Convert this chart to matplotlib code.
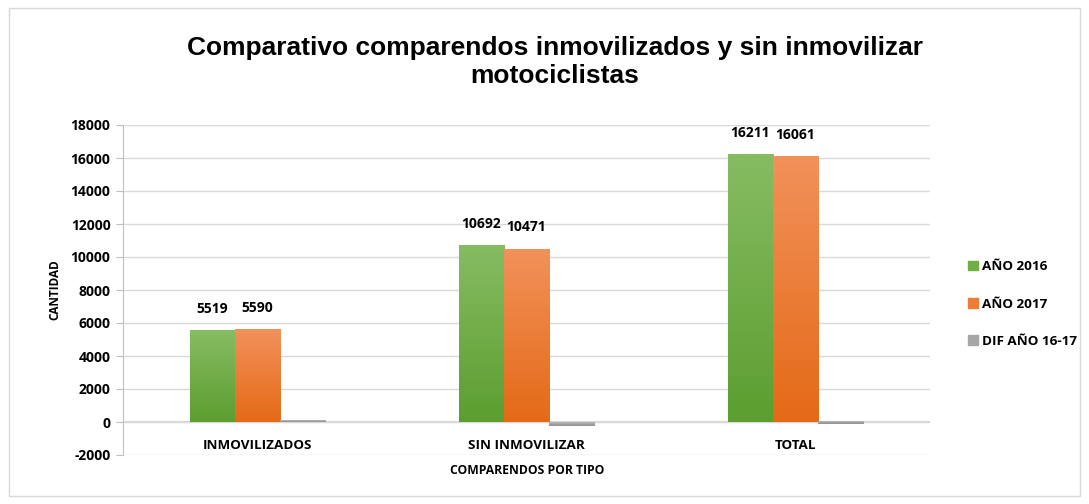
import matplotlib
matplotlib.use("Agg")
import matplotlib.pyplot as plt
import numpy as np
from matplotlib.patches import Rectangle
from matplotlib.colors import LinearSegmentedColormap

categories = ["INMOVILIZADOS", "SIN INMOVILIZAR", "TOTAL"]
series_names = ["AÑO 2016", "AÑO 2017", "DIF AÑO 16-17"]
y2016 = [5519, 10692, 16211]
y2017 = [5590, 10471, 16061]
ydif = [71, -221, -150]
yticks = [-2000, 0, 2000, 4000, 6000, 8000, 10000, 12000, 14000, 16000, 18000]

plt.rcParams['font.family'] = ['Liberation Sans', 'DejaVu Sans']
LBL = ['Open Sans', 'DejaVu Sans']

fig = plt.figure(figsize=(10.89, 5.04), dpi=100)
fig.patches.append(Rectangle((0.008, 0.016), 0.984, 0.968, transform=fig.transFigure,
                             fill=False, edgecolor='#D9D9D9', linewidth=1))
ax = fig.add_axes([123/1089, 1-455/504, (930-123)/1089, (455-125)/504])

x = np.arange(len(categories))
w = 0.168
offsets = [-w, 0, w]
grads = [('#86BC62', '#5C9E30'), ('#F2915A', '#E46A17'), ('#B8B8B8', '#8F8F8F')]
data = [y2016, y2017, ydif]
for s, (vals, off, (ctop, cbot)) in enumerate(zip(data, offsets, grads)):
    bars = ax.bar(x + off, vals, width=w, color=cbot, label=series_names[s], zorder=2,
                  linewidth=0)
    cmap = LinearSegmentedColormap.from_list('g', [cbot, ctop])
    for b in bars:
        bx, by = b.get_x(), b.get_y()
        bw, bh = b.get_width(), b.get_height()
        if abs(bh) < 1:
            continue
        grad = np.linspace(0, 1, 100).reshape(-1, 1)
        ax.imshow(grad, cmap=cmap, origin='lower', aspect='auto',
                  extent=[bx, bx + bw, min(by, by + bh), max(by, by + bh)], zorder=3)
    if s < 2:
        for xi, v in zip(x + off, vals):
            ax.text(xi, v + 900, str(v), ha='center', va='bottom', fontsize=10,
                    fontweight='bold', family=LBL)

ax.set_xlim(-0.5, 2.5)
ax.set_ylim(-2000, 18000)
ax.set_yticks(yticks)
ax.set_yticklabels([str(t) for t in yticks], fontsize=10, fontweight='bold', family=LBL)
ax.yaxis.grid(True, color='#D9D9D9', linewidth=1, zorder=0)
ax.set_axisbelow(True)
ax.tick_params(axis='y', length=5, color='#BFBFBF', pad=4)
ax.set_xticks([])
for sp in ['top', 'right', 'bottom']:
    ax.spines[sp].set_visible(False)
ax.spines['left'].set_color('#BFBFBF')
ax.axhline(0, color='#D9D9D9', linewidth=1.5, zorder=1)

for xi, c in zip(x, categories):
    ax.text(xi, -1400, c, ha='center', va='center', fontsize=9.7, fontweight='bold', family=LBL)

ax.set_ylabel('CANTIDAD', fontsize=8.5, fontweight='bold', family=LBL, labelpad=7)
fig.text(527/1089, 1-470/504, 'COMPARENDOS POR TIPO', ha='center', va='center', fontsize=8.7,
         fontweight='bold', family=LBL)

fig.text(555/1089, 1-62/504, 'Comparativo comparendos inmovilizados y sin inmovilizar\nmotociclistas',
         ha='center', va='center', fontsize=19, fontweight='bold', linespacing=1.25)

handles = [Rectangle((0, 0), 1, 1, color='#6FAF45'),
           Rectangle((0, 0), 1, 1, color='#EE7B36'),
           Rectangle((0, 0), 1, 1, color='#A6A6A6')]
leg = fig.legend(handles, series_names, loc='center left', bbox_to_anchor=(956/1089, 1-304/504),
                 frameon=False, handlelength=0.7, handleheight=0.7, handletextpad=0.3,
                 labelspacing=1.8, prop={'weight': 'bold', 'size': 9.7, 'family': LBL})

fig.savefig('out.png', dpi=100)
